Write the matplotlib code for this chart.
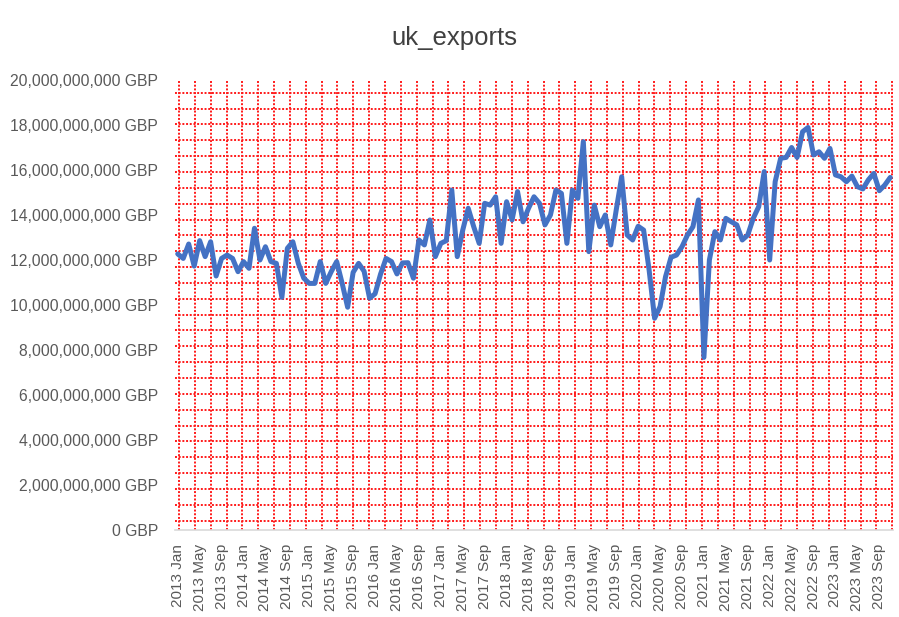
import numpy as np
import matplotlib
matplotlib.use("Agg")
import matplotlib.pyplot as plt
from matplotlib.ticker import FuncFormatter

# monthly UK exports, Jan 2013 .. Nov 2023, in billions of GBP
exports_bn = [
    12.27, 12.07, 12.71, 11.73, 12.86, 12.15, 12.81, 11.29, 12.07, 12.22, 12.07, 11.48,  # 2013
    11.93, 11.63, 13.41, 12.00, 12.59, 11.93, 11.85, 10.34, 12.52, 12.81, 11.85, 11.19,  # 2014
    10.96, 10.96, 11.93, 10.96, 11.48, 11.93, 10.96, 9.90, 11.45, 11.85, 11.50, 10.30,   # 2015
    10.50, 11.37, 12.07, 11.93, 11.38, 11.87, 11.88, 11.19, 12.89, 12.67, 13.78, 12.15,  # 2016
    12.74, 12.86, 15.11, 12.15, 13.33, 14.30, 13.48, 12.74, 14.52, 14.44, 14.81, 12.74,  # 2017
    14.59, 13.78, 15.04, 13.70, 14.30, 14.81, 14.52, 13.56, 14.00, 15.11, 14.96, 12.74,  # 2018
    15.11, 14.74, 17.26, 12.37, 14.44, 13.48, 14.00, 12.67, 14.22, 15.70, 13.11, 12.89,  # 2019
    13.50, 13.33, 11.56, 9.41, 9.93, 11.26, 12.12, 12.22, 12.59, 13.11, 13.48, 14.67,    # 2020
    7.67, 12.00, 13.26, 12.89, 13.85, 13.70, 13.56, 12.89, 13.11, 13.85, 14.37, 15.93,   # 2021
    12.00, 15.48, 16.52, 16.56, 17.00, 16.56, 17.70, 17.89, 16.67, 16.81, 16.52, 16.96,  # 2022
    15.78, 15.70, 15.48, 15.73, 15.26, 15.16, 15.56, 15.85, 15.08, 15.33, 15.67,         # 2023
]
month_names = ["Jan", "Feb", "Mar", "Apr", "May", "Jun",
               "Jul", "Aug", "Sep", "Oct", "Nov", "Dec"]
years = list(range(2013, 2024))
month_labels = [f"{y} {m}" for y in years for m in month_names][:len(exports_bn)]

values = np.array(exports_bn) * 1e9
idx = np.arange(len(values))

W, H = 899, 617
fig = plt.figure(figsize=(W / 100, H / 100), dpi=100)
plt.rcParams['font.family'] = ['Liberation Sans', 'DejaVu Sans']

# plot area in pixels
left_px, right_px, top_px, bottom_px = 175, 893, 80, 530
pos = [left_px / W, 1 - bottom_px / H, (right_px - left_px) / W, (bottom_px - top_px) / H]

# background pattern (red dotted grid fill, independent of the ticks)
bg = fig.add_axes(pos)
bg.set_xlim(left_px, right_px)
bg.set_ylim(bottom_px, top_px)
bg.axis('off')
step = 15.85
for x in np.arange(179, right_px, step):
    bg.axvline(x, color='#ff1a1a', lw=1.4, ls=(0, (1, 0.9)))
for y in np.arange(520.7, top_px + 5, -step):
    bg.axhline(y, color='#ff1a1a', lw=1.4, ls=(0, (1, 0.9)))

ax = fig.add_axes(pos)
ax.patch.set_alpha(0)
ax.plot(idx, values, color='#4472C4', lw=3.6, solid_joinstyle='round', solid_capstyle='round')

ax.set_xlim(-0.5, len(values) - 0.5)
ax.set_ylim(0, 20e9)
ax.set_yticks(np.arange(0, 20e9 + 1, 2e9))
ax.yaxis.set_major_formatter(FuncFormatter(lambda v, p: f"{v:,.0f} GBP"))

tick_idx = idx[::4]
ax.set_xticks(tick_idx)
ax.set_xticklabels([month_labels[i] for i in tick_idx], rotation=90)

for s in ['top', 'right', 'left']:
    ax.spines[s].set_visible(False)
ax.spines['bottom'].set_color('#d9d9d9')
ax.spines['bottom'].set_linewidth(1.2)
ax.tick_params(axis='both', length=0, colors='#595959', labelsize=11)
ax.tick_params(axis='y', labelsize=11.3, pad=12)
ax.tick_params(axis='x', pad=10)

fig.text(454 / W, 1 - 38 / H, "uk_exports", ha='center', va='center',
         fontsize=18.5, color='#404040')

fig.savefig("out.png", dpi=100)
